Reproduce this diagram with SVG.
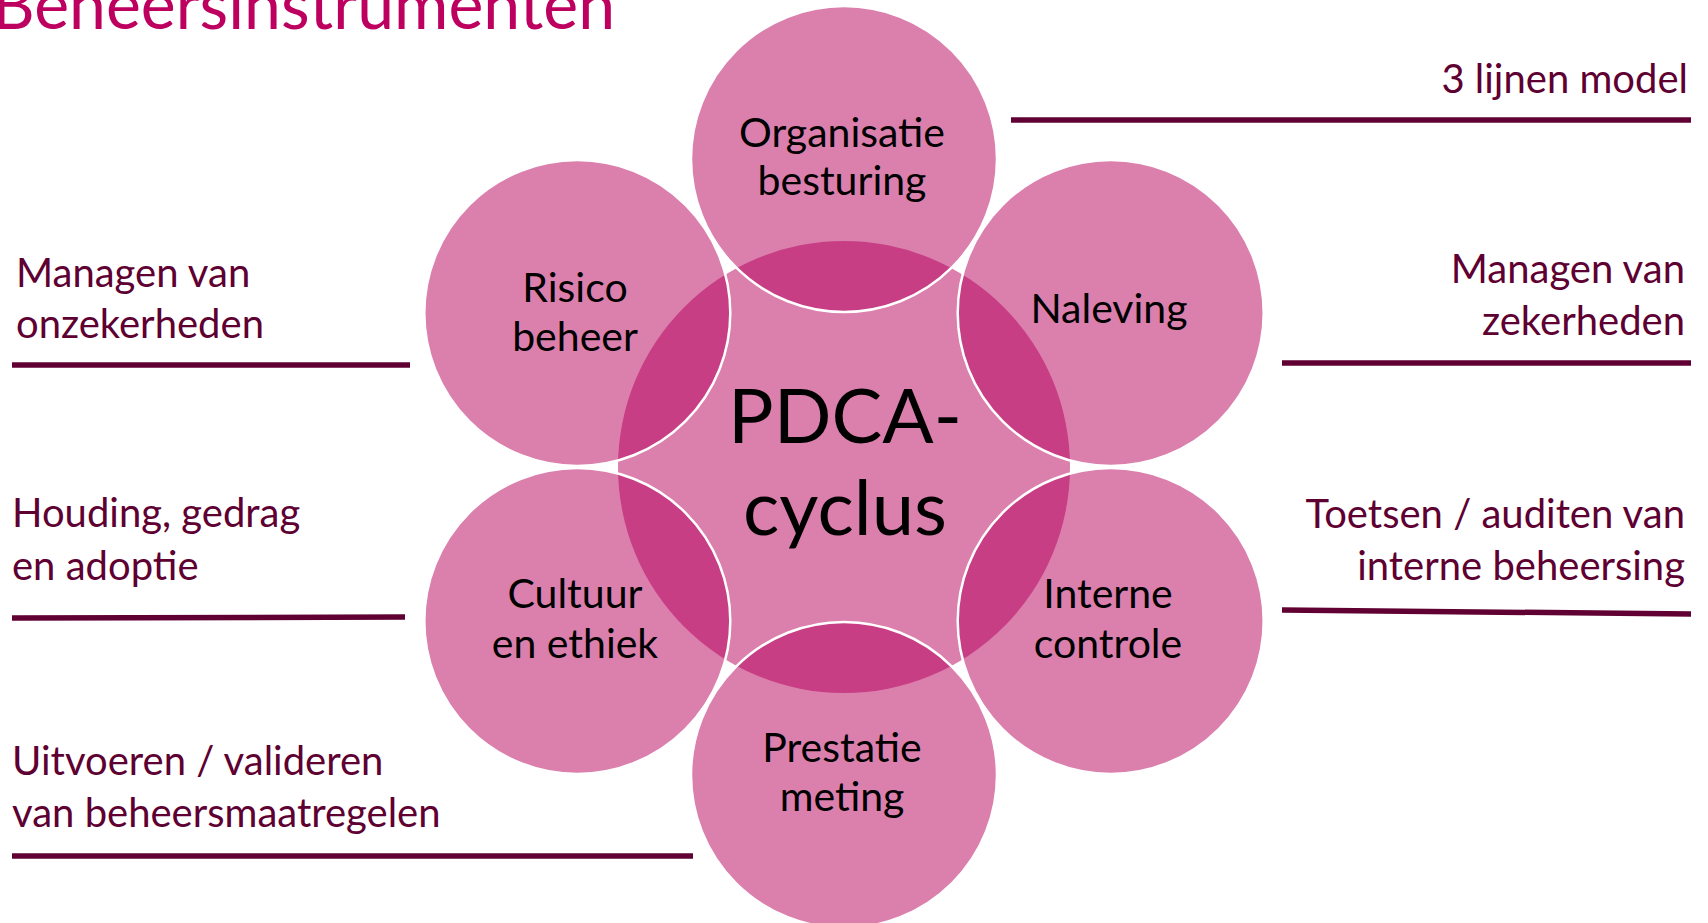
<svg xmlns="http://www.w3.org/2000/svg" width="1708" height="923" viewBox="0 0 1708 923">
<defs>
<style>
.bg{fill:#ffffff}
.light{fill:#DB7FAD}
.lens{fill:#C83E84}
.ring{fill:none;stroke:#ffffff;stroke-width:2.5}
.lbl{font-family:Lato,"Liberation Sans",sans-serif;font-size:41px;fill:#000000;text-anchor:middle}
.hubtxt{font-family:Lato,"Liberation Sans",sans-serif;font-size:76px;fill:#000000;text-anchor:middle}
.side{font-family:Lato,"Liberation Sans",sans-serif;font-size:40px;fill:#5E0031}
.rt{text-anchor:end}
.title{font-family:Lato,"Liberation Sans",sans-serif;font-size:67px;fill:#BD0060}
.rule{stroke:#600033;stroke-width:5.5;fill:none}
</style>
<clipPath id="hubclip"><circle cx="844" cy="467" r="226"/></clipPath>
</defs>
<rect class="bg" x="0" y="0" width="1708" height="923"/>
<text id="title" class="title" x="-8" y="29" textLength="623" lengthAdjust="spacingAndGlyphs">Beheersinstrumenten</text>

<g id="hub">
<circle class="light" cx="844" cy="467" r="226"/>
</g>

<g id="node-organisatie">
<circle class="light" cx="844" cy="159" r="153"/>
<circle class="lens" cx="844" cy="159" r="153" clip-path="url(#hubclip)"/>
<circle class="ring" cx="844" cy="159" r="153"/>
<text class="lbl" x="842" y="147">Organisatie</text>
<text class="lbl" x="842" y="195">besturing</text>
</g>

<g id="node-naleving">
<circle class="light" cx="1110.7" cy="313" r="153"/>
<circle class="lens" cx="1110.7" cy="313" r="153" clip-path="url(#hubclip)"/>
<circle class="ring" cx="1110.7" cy="313" r="153"/>
<text class="lbl" x="1109" y="323">Naleving</text>
</g>

<g id="node-interne">
<circle class="light" cx="1110.7" cy="621" r="153"/>
<circle class="lens" cx="1110.7" cy="621" r="153" clip-path="url(#hubclip)"/>
<circle class="ring" cx="1110.7" cy="621" r="153"/>
<text class="lbl" x="1108" y="608">Interne</text>
<text class="lbl" x="1108" y="658">controle</text>
</g>

<g id="node-prestatie">
<circle class="light" cx="844" cy="775" r="153"/>
<circle class="lens" cx="844" cy="775" r="153" clip-path="url(#hubclip)"/>
<circle class="ring" cx="844" cy="775" r="153"/>
<text class="lbl" x="842" y="762">Prestatie</text>
<text class="lbl" x="842" y="811">meting</text>
</g>

<g id="node-cultuur">
<circle class="light" cx="577.3" cy="621" r="153"/>
<circle class="lens" cx="577.3" cy="621" r="153" clip-path="url(#hubclip)"/>
<circle class="ring" cx="577.3" cy="621" r="153"/>
<text class="lbl" x="575" y="608">Cultuur</text>
<text class="lbl" x="575" y="658">en ethiek</text>
</g>

<g id="node-risico">
<circle class="light" cx="577.3" cy="313" r="153"/>
<circle class="lens" cx="577.3" cy="313" r="153" clip-path="url(#hubclip)"/>
<circle class="ring" cx="577.3" cy="313" r="153"/>
<text class="lbl" x="575" y="302">Risico</text>
<text class="lbl" x="575" y="351">beheer</text>
</g>

<g id="hub-label">
<text class="hubtxt" x="845" y="443">PDCA-</text>
<text class="hubtxt" x="845" y="535">cyclus</text>
</g>

<g id="side-labels">
<text class="side rt" x="1688" y="93">3 lijnen model</text>
<text class="side rt" x="1685" y="283">Managen van</text>
<text class="side rt" x="1685" y="335">zekerheden</text>
<text class="side rt" x="1685" y="528">Toetsen / auditen van</text>
<text class="side rt" x="1685" y="580">interne beheersing</text>
<text class="side" x="16" y="287">Managen van</text>
<text class="side" x="16" y="338">onzekerheden</text>
<text class="side" x="12" y="527">Houding, gedrag</text>
<text class="side" x="12" y="580">en adoptie</text>
<text class="side" x="12" y="775">Uitvoeren / valideren</text>
<text class="side" x="12" y="827">van beheersmaatregelen</text>
</g>

<g id="connectors">
<line class="rule" x1="1011" y1="120" x2="1691" y2="120"/>
<line class="rule" x1="1282" y1="363" x2="1691" y2="363"/>
<line class="rule" x1="1282" y1="610" x2="1691" y2="614"/>
<line class="rule" x1="12" y1="365" x2="410" y2="365"/>
<line class="rule" x1="12" y1="618" x2="405" y2="617"/>
<line class="rule" x1="12" y1="856" x2="693" y2="856"/>
</g>
</svg>
